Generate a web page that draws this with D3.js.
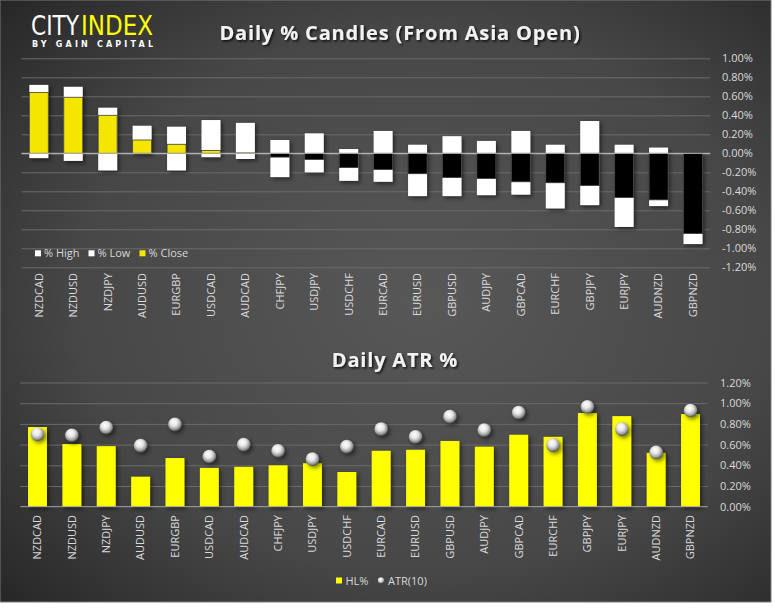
<!DOCTYPE html>
<html><head><meta charset="utf-8">
<script src="https://cdn.jsdelivr.net/npm/d3@7/dist/d3.min.js"></script>
<style>
html,body{margin:0;padding:0;background:#ffffff;}
svg{display:block;font-family:"Open Sans",sans-serif;}
</style></head>
<body>
<svg id="chart" width="775" height="608"></svg>
<script>
const pairs = ["NZDCAD","NZDUSD","NZDJPY","AUDUSD","EURGBP","USDCAD","AUDCAD","CHFJPY","USDJPY","USDCHF","EURCAD","EURUSD","GBPUSD","AUDJPY","GBPCAD","EURCHF","GBPJPY","EURJPY","AUDNZD","GBPNZD"];
const highPct  = [0.72, 0.70, 0.48, 0.29, 0.28, 0.35, 0.32, 0.14, 0.21, 0.045, 0.235, 0.09, 0.18, 0.13, 0.235, 0.09, 0.34, 0.09, 0.06, 0.0];
const lowPct   = [-0.05, -0.08, -0.18, -0.005, -0.18, -0.04, -0.06, -0.25, -0.20, -0.29, -0.30, -0.45, -0.45, -0.44, -0.435, -0.58, -0.545, -0.775, -0.555, -0.955];
const closePct = [0.64, 0.59, 0.40, 0.14, 0.095, 0.03, 0.004, -0.04, -0.065, -0.15, -0.17, -0.215, -0.255, -0.265, -0.30, -0.31, -0.34, -0.465, -0.49, -0.845];
const hlPct    = [0.77, 0.605, 0.585, 0.29, 0.47, 0.375, 0.385, 0.40, 0.42, 0.335, 0.54, 0.55, 0.635, 0.58, 0.695, 0.675, 0.905, 0.875, 0.52, 0.895];
const atr10    = [0.70, 0.69, 0.765, 0.59, 0.795, 0.485, 0.60, 0.54, 0.46, 0.58, 0.75, 0.675, 0.87, 0.74, 0.91, 0.595, 0.965, 0.75, 0.525, 0.93];
const topTicks = [1.0, 0.8, 0.6, 0.4, 0.2, 0.0, -0.2, -0.4, -0.6, -0.8, -1.0, -1.2];
const botTicks = [1.2, 1.0, 0.8, 0.6, 0.4, 0.2, 0.0];

const svg = d3.select("#chart");
const defs = svg.append("defs");

const bg = defs.append("radialGradient").attr("id","bg").attr("cx","55%").attr("cy","50%").attr("r","75%");
bg.append("stop").attr("offset","0%").attr("stop-color","#585858");
bg.append("stop").attr("offset","60%").attr("stop-color","#474747");
bg.append("stop").attr("offset","100%").attr("stop-color","#262626");

const sh = defs.append("filter").attr("id","shadow").attr("x","-30%").attr("y","-30%").attr("width","170%").attr("height","170%");
sh.append("feDropShadow").attr("dx",2).attr("dy",2).attr("stdDeviation",2).attr("flood-color","#000").attr("flood-opacity",0.55);

const tsh = defs.append("filter").attr("id","tshadow").attr("x","-10%").attr("y","-30%").attr("width","120%").attr("height","170%");
tsh.append("feDropShadow").attr("dx",1.5).attr("dy",1.5).attr("stdDeviation",1.2).attr("flood-color","#000").attr("flood-opacity",0.8);

const sph = defs.append("radialGradient").attr("id","sphere").attr("cx","45%").attr("cy","40%").attr("r","60%").attr("fx","40%").attr("fy","30%");
sph.append("stop").attr("offset","0%").attr("stop-color","#ffffff");
sph.append("stop").attr("offset","45%").attr("stop-color","#e6e6e6");
sph.append("stop").attr("offset","80%").attr("stop-color","#9a9a9a");
sph.append("stop").attr("offset","100%").attr("stop-color","#4a4a4a");

svg.append("rect").attr("x",0).attr("y",0).attr("width",771).attr("height",602)
  .attr("fill","url(#bg)").attr("stroke","#7a7a7a").attr("stroke-width",1);

// Logo
const logoFont = "Liberation Sans Narrow, Arial Narrow, DejaVu Sans Condensed, sans-serif";
svg.append("text").attr("x",31).attr("y",35).attr("font-family",logoFont)
  .attr("font-size",26).attr("fill","#ffffff").attr("textLength",48).attr("lengthAdjust","spacingAndGlyphs").text("CITY");
svg.append("text").attr("x",81).attr("y",35).attr("font-family",logoFont)
  .attr("font-size",26).attr("fill","#ffff00").attr("textLength",72).attr("lengthAdjust","spacingAndGlyphs").text("INDEX");
svg.append("text").attr("x",32).attr("y",47).attr("font-family","DejaVu Sans, sans-serif").attr("font-size",8).attr("font-weight","bold")
  .attr("fill","#ffffff").attr("textLength",121).attr("lengthAdjust","spacing").text("BY GAIN CAPITAL");

// Titles
svg.append("text").attr("x",400).attr("y",40).attr("text-anchor","middle").attr("font-size",20).attr("font-weight","bold")
  .attr("letter-spacing",0.85).attr("fill","#f2f2f2").attr("filter","url(#tshadow)").text("Daily % Candles (From Asia Open)");
svg.append("text").attr("x",395).attr("y",367).attr("text-anchor","middle").attr("font-size",20).attr("font-weight","bold")
  .attr("letter-spacing",0.8).attr("fill","#f2f2f2").attr("filter","url(#tshadow)").text("Daily ATR %");

const fmt = v => v.toFixed(2) + "%";

// ---------- TOP CHART ----------
const xT = d3.scaleBand().domain(pairs).range([21.6, 710.2]).paddingInner(0.45).paddingOuter(0.225);
const yT = d3.scaleLinear().domain([-1.2, 1.0]).range([267.3, 58.3]);

const gridT = svg.append("g").attr("transform","translate(21.6,0)")
  .call(d3.axisRight(yT).tickValues(topTicks).tickSize(688.6).tickFormat(""));
gridT.select(".domain").remove();
gridT.selectAll("line").attr("stroke", d => d === 0 ? "#b0b0b0" : "#6b6b6b").attr("stroke-width",1);

const axT = svg.append("g").attr("transform","translate(722,0)")
  .call(d3.axisRight(yT).tickValues(topTicks).tickSize(0).tickPadding(0).tickFormat(fmt));
axT.select(".domain").remove();
axT.selectAll("text").attr("fill","#d9d9d9").attr("font-size",11).attr("font-family","Open Sans, sans-serif");

const candles = pairs.map((p,i) => ({p, h: highPct[i], l: lowPct[i], c: closePct[i]}));
const gT = svg.append("g");
gT.selectAll("rect.hl").data(candles).join("rect").attr("class","hl")
  .attr("x", d => xT(d.p)).attr("width", xT.bandwidth())
  .attr("y", d => yT(d.h)).attr("height", d => yT(d.l) - yT(d.h))
  .attr("fill","#ffffff").attr("filter","url(#shadow)");
gT.selectAll("rect.cl").data(candles).join("rect").attr("class","cl")
  .attr("x", d => xT(d.p)).attr("width", xT.bandwidth())
  .attr("y", d => yT(Math.max(0,d.c))).attr("height", d => Math.abs(yT(d.c) - yT(0)))
  .attr("fill", d => d.c >= 0 ? "#f5e600" : "#000000")
  .attr("stroke","#3c3c3c").attr("stroke-width",0.8);
svg.append("line").attr("x1",21.6).attr("x2",710.2).attr("y1",yT(0)).attr("y2",yT(0)).attr("stroke","#b8b8b8").attr("stroke-width",1);

const xlT = svg.append("g").attr("transform","translate(0,273)")
  .call(d3.axisBottom(xT).tickSize(0).tickPadding(0));
xlT.select(".domain").remove();
xlT.selectAll("text").attr("transform","rotate(-90)").attr("text-anchor","end").attr("dy","0.35em")
  .attr("x",0).attr("y",0).attr("fill","#d9d9d9").attr("font-size",11).attr("font-family","Open Sans, sans-serif");

const legT = [{k:"% High",c:"#ffffff",x:35},{k:"% Low",c:"#ffffff",x:88.5},{k:"% Close",c:"#f5e600",x:139.5}];
const lg = svg.append("g");
lg.selectAll("rect").data(legT).join("rect").attr("x",d=>d.x).attr("y",250.3).attr("width",6).attr("height",6).attr("fill",d=>d.c);
lg.selectAll("text").data(legT).join("text").attr("x",d=>d.x+9).attr("y",257.3).attr("font-size",11)
  .attr("fill","#d9d9d9").text(d=>d.k);

// ---------- BOTTOM CHART ----------
const xB = d3.scaleBand().domain(pairs).range([20.3, 707.7]).paddingInner(0.45).paddingOuter(0.225);
const yB = d3.scaleLinear().domain([0, 1.2]).range([506.7, 382.5]);

const gridB = svg.append("g").attr("transform","translate(20.3,0)")
  .call(d3.axisRight(yB).tickValues(botTicks.filter(v=>v>0)).tickSize(687.4).tickFormat(""));
gridB.select(".domain").remove();
gridB.selectAll("line").attr("stroke","#6b6b6b").attr("stroke-width",1);

const axB = svg.append("g").attr("transform","translate(720,0)")
  .call(d3.axisRight(yB).tickValues(botTicks).tickSize(0).tickPadding(0).tickFormat(fmt));
axB.select(".domain").remove();
axB.selectAll("text").attr("fill","#d9d9d9").attr("font-size",11).attr("font-family","Open Sans, sans-serif");

const atrData = pairs.map((p,i) => ({p, hl: hlPct[i], a: atr10[i]}));
svg.append("g").selectAll("rect").data(atrData).join("rect")
  .attr("x", d => xB(d.p)).attr("width", xB.bandwidth())
  .attr("y", d => yB(d.hl)).attr("height", d => yB(0) - yB(d.hl))
  .attr("fill","#ffff00").attr("filter","url(#shadow)");
svg.append("line").attr("x1",20.3).attr("x2",707.7).attr("y1",yB(0)).attr("y2",yB(0)).attr("stroke","#a6a6a6").attr("stroke-width",1);

svg.append("g").selectAll("circle").data(atrData).join("circle")
  .attr("cx", d => xB(d.p) + xB.bandwidth()/2).attr("cy", d => yB(d.a)).attr("r",6.8)
  .attr("fill","url(#sphere)").attr("filter","url(#shadow)");

const xlB = svg.append("g").attr("transform","translate(0,515)")
  .call(d3.axisBottom(xB).tickSize(0).tickPadding(0));
xlB.select(".domain").remove();
xlB.selectAll("text").attr("transform","rotate(-90)").attr("text-anchor","end").attr("dy","0.35em")
  .attr("x",0).attr("y",0).attr("fill","#d9d9d9").attr("font-size",11).attr("font-family","Open Sans, sans-serif");

svg.append("rect").attr("x",336).attr("y",577.5).attr("width",6).attr("height",6).attr("fill","#ffff00");
svg.append("text").attr("x",345.5).attr("y",584.5).attr("font-size",11).attr("fill","#d9d9d9").text("HL%");
svg.append("circle").attr("cx",381).attr("cy",580.5).attr("r",3.2).attr("fill","url(#sphere)");
svg.append("text").attr("x",388).attr("y",584.5).attr("font-size",11).attr("fill","#d9d9d9").text("ATR(10)");
</script>
</body></html>
